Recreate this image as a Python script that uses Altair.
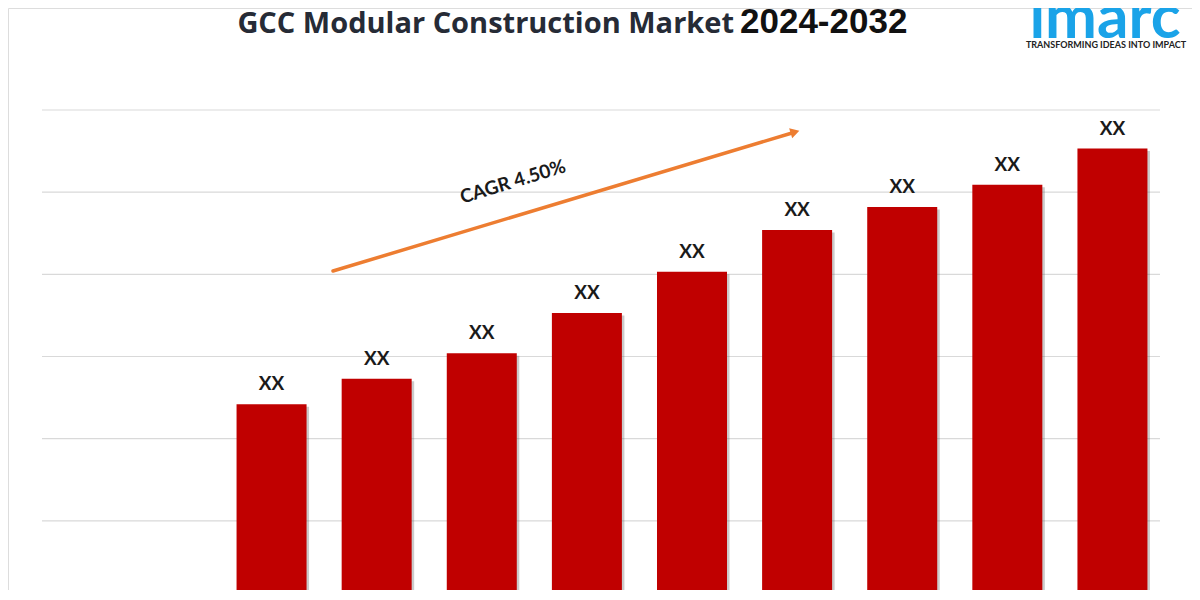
import altair as alt
import pandas as pd

# ---- data ----
years = ["2024", "2025", "2026", "2027", "2028", "2029", "2030", "2031", "2032"]
values = [2.42, 2.73, 3.04, 3.53, 4.03, 4.54, 4.82, 5.09, 5.53]
labels = ["XX"] * 9
grid_values = [1, 2, 3, 4, 5, 6]
title_main = ["GCC Modular Construction Market"]
title_years = ["2024-2032"]
cagr_text = ["CAGR 4.50%"]
logo_text = ["imarc"]
logo_tag = ["TRANSFORMING IDEAS INTO IMPACT"]

df = pd.DataFrame({"year": years, "value": values, "label": labels})
grid_df = pd.DataFrame({"g": grid_values})

xs = alt.Scale(domain=years, range=[211, 1157], paddingInner=0.334, paddingOuter=0.167)
ys = alt.Scale(domain=[0, 6], range=[595, 102], nice=False, zero=True)

X = alt.X("year:N", scale=xs, axis=None)
Y = alt.Y("value:Q", scale=ys, axis=None)

grid = alt.Chart(grid_df).mark_rule(color="#D9D9D9", strokeWidth=1.2).encode(
    y=alt.Y("g:Q", scale=ys, axis=None),
    x=alt.value(34), x2=alt.value(1152),
)

shadow = alt.Chart(df).mark_bar(color="#6b6b6b", opacity=0.35, xOffset=2.5, yOffset=2.5, clip=True).encode(
    x=X, y=Y
)

bars = alt.Chart(df).mark_bar(color="#C00000", clip=True).encode(x=X, y=Y)

bar_labels = alt.Chart(df).mark_text(
    font="Lato", fontWeight="bold", fontSize=19, color="#1a1a1a", dy=-14, baseline="alphabetic"
).encode(x=X, y=Y, text="label:N")

arrow_line = alt.Chart(pd.DataFrame({"a": [0]})).mark_rule(
    color="#ED7D31", strokeWidth=3.5, strokeCap="round"
).encode(x=alt.value(325), y=alt.value(263), x2=alt.value(784), y2=alt.value(125))

arrow_head = alt.Chart(pd.DataFrame({"a": [0]})).mark_point(
    shape="triangle-up", filled=True, color="#ED7D31", opacity=1, size=110, angle=73
).encode(x=alt.value(787), y=alt.value(124))

cagr = alt.Chart(pd.DataFrame({"t": cagr_text})).mark_text(
    font="Lato", fontWeight="bold", fontSize=19, color="#1a1a1a", angle=343, align="center", baseline="middle"
).encode(x=alt.value(505), y=alt.value(174), text="t:N")

t_main = alt.Chart(pd.DataFrame({"t": title_main})).mark_text(
    font="Open Sans", fontWeight="bold", fontSize=29, color="#262B36", align="right", baseline="alphabetic"
).encode(x=alt.value(726), y=alt.value(25), text="t:N")

t_years = alt.Chart(pd.DataFrame({"t": title_years})).mark_text(
    font="Liberation Sans", fontWeight="bold", fontSize=35, color="#111111", align="left", baseline="alphabetic"
).encode(x=alt.value(732), y=alt.value(25), text="t:N")

logo = alt.Chart(pd.DataFrame({"t": logo_text})).mark_text(
    font="Lato", fontWeight="bold", fontSize=62, color="#1AA3E8", align="center", baseline="alphabetic"
).encode(x=alt.value(1097), y=alt.value(30), text="t:N")

tag = alt.Chart(pd.DataFrame({"t": logo_tag})).mark_text(
    font="Lato", fontWeight="bold", fontSize=9, color="#222222", align="center", baseline="alphabetic"
).encode(x=alt.value(1098), y=alt.value(40), text="t:N")

chart = alt.layer(
    grid, shadow, bars, bar_labels, arrow_line, arrow_head, cagr, t_main, t_years, logo, tag
).properties(
    width=1184, height=582, padding=0, autosize=alt.AutoSizeParams(type="none")
).configure_view(stroke=None).configure(background="white")

chart.save("out.html", embed_options={"renderer": "svg", "actions": False})
